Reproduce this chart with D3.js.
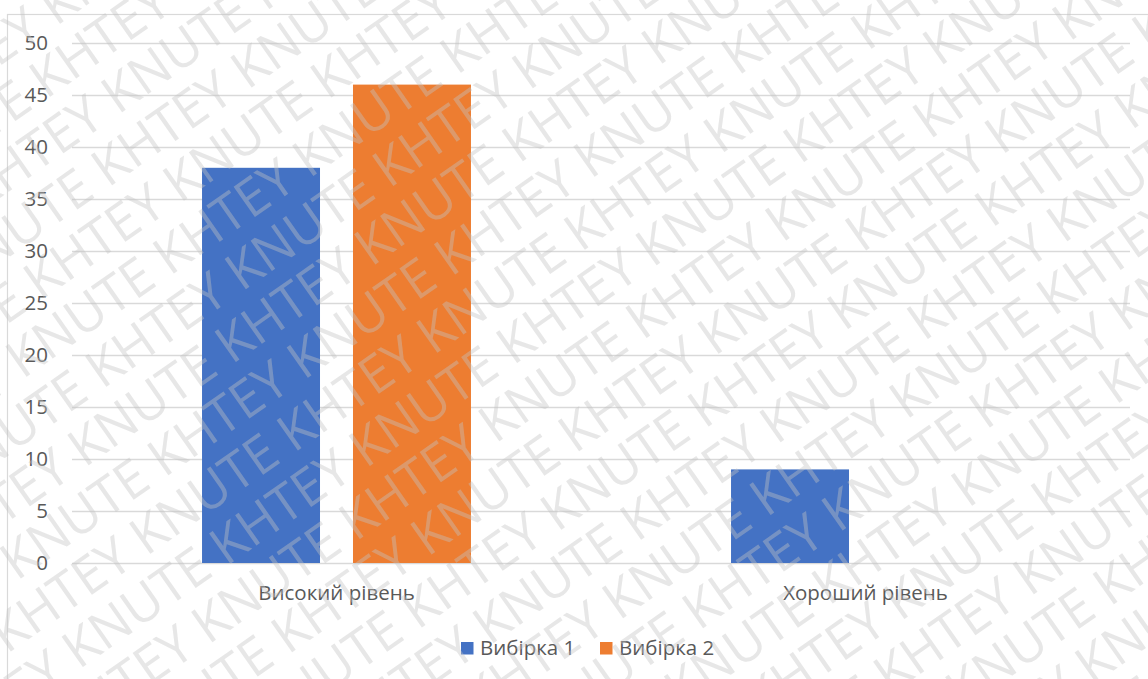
<!DOCTYPE html>
<html>
<head>
<meta charset="utf-8">
<script src="https://cdn.jsdelivr.net/npm/d3@7"></script>
<style>
html,body{margin:0;padding:0;background:#fff;}
svg{display:block;}
text{font-family:"Open Sans","Noto Sans",sans-serif;}
</style>
</head>
<body>
<svg id="chart" width="1148" height="679"></svg>
<script>
const categories = ["Високий рівень", "Хороший рівень"];
const seriesNames = ["Вибірка 1", "Вибірка 2"];
const series1 = [38, 9];
const series2 = [46, 0];
const yTicks = [0, 5, 10, 15, 20, 25, 30, 35, 40, 45, 50];
const colors = ["#4472C4", "#ED7D31"];
const watermarkWords = ["KHTEY", "KNUTE"];

const W = 1148, H = 679;
const margin = {left: 72, right: 18, top: 43, bottom: 116};
const svg = d3.select("#chart");

// chart border
svg.append("rect").attr("x", 7.5).attr("y", 14.5).attr("width", 1300).attr("height", 800)
  .attr("fill", "none").attr("stroke", "#d9d9d9").attr("stroke-width", 1.2);

const x0 = d3.scaleBand().domain(categories).range([margin.left, W - margin.right]).padding(0);
const y = d3.scaleLinear().domain([0, 50]).range([H - margin.bottom, margin.top]);
const x1 = d3.scaleBand().domain(seriesNames)
  .range([x0.bandwidth() * 0.2458, x0.bandwidth() * 0.7542]).paddingInner(0.2185).paddingOuter(0);

// gridlines
const yAxis = d3.axisLeft(y).tickValues(yTicks).tickSize(-(W - margin.right - margin.left)).tickPadding(24);
const gy = svg.append("g").attr("transform", `translate(${margin.left},0)`).call(yAxis);
gy.select(".domain").remove();
gy.selectAll(".tick line").attr("stroke", "#d9d9d9").attr("stroke-width", 1.3);
gy.selectAll(".tick text").attr("fill", "#595959").style("font-size", "20.5px")
  .attr("font-family", "Open Sans").attr("dy", "0.34em");

// bars
const rows = categories.map((c, i) => ({cat: c, vals: [series1[i], series2[i]]}));
const g = svg.append("g");
rows.forEach(r => {
  r.vals.forEach((v, j) => {
    if (v <= 0) return;
    g.append("rect")
      .attr("x", x0(r.cat) + x1(seriesNames[j]))
      .attr("y", y(v))
      .attr("width", x1.bandwidth())
      .attr("height", y(0) - y(v))
      .attr("fill", colors[j]);
  });
});

// category labels
const xAxis = d3.axisBottom(x0).tickSize(0).tickPadding(22);
const gx = svg.append("g").attr("transform", `translate(0,${y(0)})`).call(xAxis);
gx.select(".domain").remove();
gx.selectAll(".tick text").attr("fill", "#595959").style("font-size", "20.5px")
  .attr("font-family", "Open Sans");

// legend
const legend = svg.append("g");
const legX = [461, 600];
seriesNames.forEach((s, j) => {
  legend.append("rect").attr("x", legX[j]).attr("y", 642).attr("width", 12.5).attr("height", 12.5).attr("fill", colors[j]);
  legend.append("text").attr("x", legX[j] + 19).attr("y", 655).attr("fill", "#595959")
    .style("font-size", "20.5px").text(s);
});

// watermark overlay
const wm = svg.append("g").attr("pointer-events", "none")
  .attr("transform", "rotate(-35)");
const rowGap = 54;
for (let k = -16; k < 26; k++) {
  let words = [];
  for (let n = 0; n < 12; n++) words.push(watermarkWords[(n + k + 100) % 2]);
  wm.append("text")
    .attr("x", -720 + (k % 2 === 0 ? 0 : 50))
    .attr("y", k * rowGap)
    .attr("fill", "rgba(195,195,195,0.40)")
    .style("font-size", "52px")
    .text(words.join(" "));
}
</script>
</body>
</html>
